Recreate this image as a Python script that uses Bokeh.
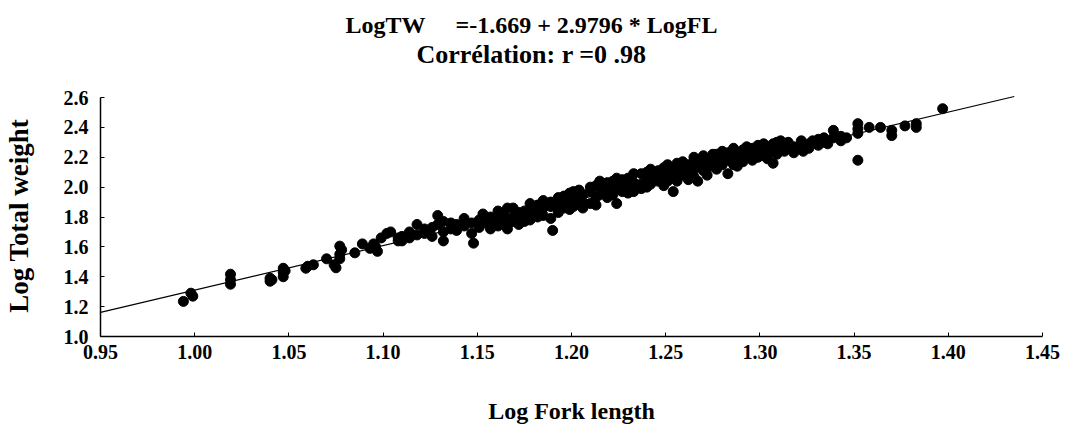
from bokeh.plotting import figure
from bokeh.models import Label, FixedTicker, NumeralTickFormatter, Range1d
from bokeh.embed import file_html
from bokeh.resources import INLINE

# Regression line shown in the title
intercept = -1.669
slope = 2.9796
line_x = [0.95, 1.435]

x_ticks = [0.95, 1.00, 1.05, 1.10, 1.15, 1.20, 1.25, 1.30, 1.35, 1.40, 1.45]
y_ticks = [1.0, 1.2, 1.4, 1.6, 1.8, 2.0, 2.2, 2.4, 2.6]

title_line1 = "LogTW\u00a0\u00a0\u00a0\u00a0\u00a0=-1.669 + 2.9796 * LogFL"
title_line2 = "Corrélation: r =0 .98"
x_label = "Log Fork length"
y_label = "Log Total weight"

small_fish = {
    0.994: [1.235], 0.998: [1.29], 0.999: [1.27],
    1.019: [1.417, 1.35, 1.38],
    1.040: [1.39, 1.37], 1.041: [1.38],
    1.047: [1.457, 1.40, 1.43], 1.048: [1.44],
    1.059: [1.457], 1.060: [1.47], 1.063: [1.48],
    1.070: [1.52], 1.074: [1.48], 1.075: [1.46],
    1.077: [1.605, 1.55, 1.52], 1.078: [1.58],
    1.085: [1.56], 1.089: [1.62], 1.093: [1.59], 1.095: [1.62],
    1.096: [1.60], 1.097: [1.57], 1.099: [1.66], 1.102: [1.69],
    1.104: [1.70], 1.108: [1.64, 1.66],
}
medium_fish = {
    1.110: [1.64, 1.67], 1.114: [1.66, 1.70], 1.118: [1.75, 1.68],
    1.122: [1.69, 1.72], 1.126: [1.67, 1.73], 1.129: [1.81, 1.75],
    1.132: [1.64, 1.70, 1.77], 1.136: [1.72, 1.76], 1.139: [1.75, 1.71],
    1.143: [1.79, 1.74], 1.147: [1.69, 1.76], 1.148: [1.625],
    1.151: [1.73, 1.78], 1.153: [1.82, 1.76], 1.157: [1.76, 1.80, 1.72],
    1.161: [1.84, 1.78, 1.74], 1.164: [1.79, 1.76, 1.82],
    1.166: [1.75, 1.86, 1.72], 1.169: [1.86, 1.80, 1.77],
    1.172: [1.79, 1.83, 1.75], 1.175: [1.84, 1.80, 1.77],
    1.178: [1.89, 1.83, 1.78], 1.182: [1.84, 1.88, 1.80],
    1.185: [1.91, 1.86, 1.81], 1.189: [1.79, 1.87, 1.90], 1.190: [1.71],
    1.193: [1.93, 1.88, 1.83], 1.196: [1.86, 1.91, 1.94],
    1.199: [1.90, 1.85, 1.96], 1.201: [1.91, 1.87, 1.97],
    1.204: [1.94, 1.89, 1.98], 1.206: [1.95, 1.90, 1.86],
    1.210: [1.89, 1.97, 2.00], 1.213: [1.93, 2.01, 1.88],
    1.215: [2.00, 1.95, 2.04], 1.219: [1.93, 1.98, 2.03],
    1.222: [2.04, 1.95, 1.99], 1.224: [1.89, 2.02, 2.06],
    1.227: [1.97, 2.01, 2.05], 1.230: [2.06, 2.00, 1.96],
}
large_fish = {
    1.233: [1.97, 2.03, 2.09], 1.237: [2.09, 2.02, 1.99],
    1.240: [2.05, 2.10, 2.00], 1.242: [2.02, 2.07, 2.12],
    1.246: [2.11, 2.04, 2.08], 1.249: [2.06, 2.13, 2.01],
    1.251: [2.04, 2.09, 2.15], 1.254: [1.97, 2.07, 2.12],
    1.256: [2.16, 2.10, 2.04], 1.259: [2.08, 2.13, 2.17],
    1.262: [2.09, 2.15, 2.05], 1.265: [2.20, 2.12, 2.07],
    1.267: [2.04, 2.14, 2.18], 1.270: [2.11, 2.16, 2.21],
    1.272: [2.16, 2.08, 2.13], 1.275: [2.19, 2.14, 2.22],
    1.277: [2.22, 2.12, 2.17], 1.280: [2.15, 2.20, 2.24],
    1.283: [2.09, 2.18, 2.23], 1.286: [2.26, 2.20, 2.15],
    1.288: [2.18, 2.23, 2.14], 1.291: [2.21, 2.25, 2.17],
    1.293: [2.20, 2.24, 2.27], 1.296: [2.22, 2.18, 2.26],
    1.299: [2.24, 2.20, 2.28], 1.302: [2.21, 2.26, 2.29],
    1.304: [2.22, 2.27, 2.19], 1.307: [2.16, 2.24, 2.29],
    1.309: [2.26, 2.22, 2.30], 1.311: [2.31, 2.25], 1.313: [2.24, 2.28],
    1.315: [2.26, 2.30], 1.318: [2.27, 2.23], 1.322: [2.31, 2.27],
    1.323: [2.24], 1.326: [2.26, 2.29], 1.328: [2.29, 2.31],
    1.331: [2.28, 2.32], 1.334: [2.33, 2.30], 1.336: [2.29],
    1.339: [2.38, 2.33], 1.343: [2.31, 2.34], 1.346: [2.33],
    1.352: [2.425, 2.36, 2.39, 2.18], 1.358: [2.40], 1.364: [2.40],
    1.370: [2.38, 2.345], 1.377: [2.41], 1.383: [2.425, 2.40],
    1.397: [2.525],
}

log_fl, log_tw = [], []
for group in (small_fish, medium_fish, large_fish):
    for xv, yvals in group.items():
        for yv in yvals:
            log_fl.append(xv)
            log_tw.append(yv)

line_y = [intercept + slope * v for v in line_x]

FONT = "Liberation Serif"

# plot frame reaches the top of the canvas so the title lines can sit inside it;
# the y axis itself is bounded to 1.0-2.6
y_view_top = 2.6 + 97 * 1.6 / 239

p = figure(width=1067, height=428, x_range=Range1d(0.95, 1.45), y_range=Range1d(1.0, y_view_top),
           output_backend="svg", toolbar_location=None, title=None,
           min_border_left=100, min_border_right=25, min_border_top=0, min_border_bottom=92)
p.outline_line_color = None
p.xgrid.visible = False
p.ygrid.visible = False
p.background_fill_color = "white"
p.border_fill_color = "white"

p.scatter(log_fl, log_tw, marker="circle", size=10, fill_color="black", line_color="black")
p.line(line_x, line_y, line_color="black", line_width=1.2)

for ax in (p.xaxis[0], p.yaxis[0]):
    ax.axis_line_width = 1.5
    ax.axis_line_color = "black"
    ax.major_tick_in = 4
    ax.major_tick_out = 0
    ax.major_tick_line_color = "black"
    ax.minor_tick_line_color = None
    ax.major_label_text_font = FONT
    ax.major_label_text_font_style = "bold"
    ax.major_label_text_font_size = "20px"
    ax.major_label_text_color = "black"
    ax.axis_label_text_font = FONT
    ax.axis_label_text_font_style = "bold"
    ax.axis_label_text_color = "black"

p.yaxis.bounds = (1.0, 2.6)
p.xaxis.ticker = FixedTicker(ticks=x_ticks)
p.yaxis.ticker = FixedTicker(ticks=y_ticks)
p.xaxis.formatter = NumeralTickFormatter(format="0.00")
p.yaxis.formatter = NumeralTickFormatter(format="0.0")
p.xaxis.major_label_standoff = 8
p.yaxis.major_label_standoff = 12
p.xaxis.axis_label = x_label
# trailing no-break spaces keep the rotated label centred on the 1.0-2.6 axis span
p.yaxis.axis_label = y_label + "\u00a0" * 14
p.xaxis.axis_label_text_font_size = "24px"
p.yaxis.axis_label_text_font_size = "27px"
p.xaxis.axis_label_standoff = 36
p.yaxis.axis_label_standoff = 27

t1 = Label(x=431, y=312, x_units="screen", y_units="screen", text=title_line1,
           text_align="center", text_baseline="alphabetic", text_font=FONT,
           text_font_style="bold", text_font_size="24px", text_color="black")
t2 = Label(x=431, y=282, x_units="screen", y_units="screen", text=title_line2,
           text_align="center", text_baseline="alphabetic", text_font=FONT,
           text_font_style="bold", text_font_size="26px", text_color="black")
p.add_layout(t1)
p.add_layout(t2)

open("out.html", "w").write(file_html(p, INLINE))
